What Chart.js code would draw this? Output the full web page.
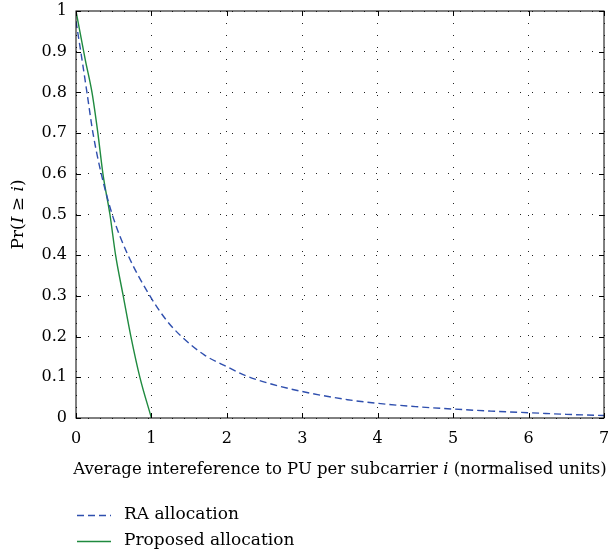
<!DOCTYPE html>
<html>
<head>
<meta charset="utf-8">
<script src="https://cdn.jsdelivr.net/npm/chart.js@4.4.1/dist/chart.umd.min.js"></script>
<style>
  html, body { margin: 0; padding: 0; background: #fff; }
  #wrap { width: 611px; height: 556px; }
</style>
</head>
<body>
<div id="wrap"><canvas id="chart"></canvas></div>
<script>
// RA allocation (dashed blue)
const raX = [0, 0.08, 0.145, 0.225, 0.335, 0.48, 0.69, 0.98, 1.2, 1.4, 1.7, 2, 2.25, 2.6, 3, 3.6, 4, 4.5, 5, 5.5, 6, 6.5, 7]
const raY = [0.975, 0.88, 0.8, 0.7, 0.6, 0.5, 0.4, 0.3, 0.24, 0.2, 0.155, 0.126, 0.104, 0.083, 0.065, 0.045, 0.036, 0.028, 0.022, 0.017, 0.013, 0.009, 0.006]

// Proposed allocation (solid green)
const propX = [0, 0.123, 0.212, 0.29, 0.357, 0.45, 0.525, 0.626, 0.728, 0.847, 1]
const propY = [1, 0.88, 0.8, 0.7, 0.6, 0.5, 0.4, 0.3, 0.2, 0.1, 0]

const xTicks = [0, 1, 2, 3, 4, 5, 6, 7]
const yTicks = [0, 0.1, 0.2, 0.3, 0.4, 0.5, 0.6, 0.7, 0.8, 0.9, 1]

const seriesNames = ['RA allocation', 'Proposed allocation']
const xTitle = ['Average intereference to PU per subcarrier ', 'i', ' (normalised units)']
const yTitle = ['Pr(', 'I', ' \u2265 ', 'i', ')']

const SERIF = '"DejaVu Serif", "Liberation Serif", serif'
const BLUE = '#2f4fae'
const GREEN = '#1f8a3f'

function pts(xs, ys) {
  return xs.map((x, i) => ({ x: x, y: ys[i] }))
}

// draws text pieces, odd pieces italic
function drawPieces(ctx, pieces, size, x, y) {
  let widths = pieces.map((p, i) => {
    ctx.font = (i % 2 ? 'italic ' : '') + size + 'px ' + SERIF
    return ctx.measureText(p).width
  })
  let total = widths.reduce((a, b) => a + b, 0)
  let cx = x - total / 2
  ctx.textAlign = 'left'
  ctx.textBaseline = 'middle'
  pieces.forEach((p, i) => {
    ctx.font = (i % 2 ? 'italic ' : '') + size + 'px ' + SERIF
    ctx.fillText(p, cx, y)
    cx += widths[i]
  })
}

const frame = {
  id: 'frame',
  afterDraw(chart) {
    const { ctx, chartArea: { left, right, top, bottom }, scales } = chart
    ctx.save()
    ctx.strokeStyle = '#000'
    ctx.lineWidth = 1
    ctx.strokeRect(left, top, right - left, bottom - top)

    // inward ticks on all four sides
    const tl = 5
    ctx.beginPath()
    xTicks.forEach(v => {
      const px = Math.round(scales.x.getPixelForValue(v)) + 0.5
      ctx.moveTo(px, bottom); ctx.lineTo(px, bottom - tl)
      ctx.moveTo(px, top); ctx.lineTo(px, top + tl)
    })
    yTicks.forEach(v => {
      const py = Math.round(scales.y.getPixelForValue(v)) + 0.5
      ctx.moveTo(left, py); ctx.lineTo(left + tl, py)
      ctx.moveTo(right, py); ctx.lineTo(right - tl, py)
    })
    ctx.stroke()

    ctx.fillStyle = '#000'
    // x title
    drawPieces(ctx, xTitle, 16.5, (left + right) / 2, 470)
    // y title, rotated
    ctx.save()
    ctx.translate(19, (top + bottom) / 2)
    ctx.rotate(-Math.PI / 2)
    drawPieces(ctx, yTitle, 17, 0, 0)
    ctx.restore()

    // legend
    const rows = [515, 541]
    chart.data.datasets.forEach((ds, i) => {
      const y = rows[i] + 0.5
      ctx.beginPath()
      ctx.strokeStyle = ds.borderColor
      ctx.lineWidth = 1.3
      ctx.setLineDash(ds.borderDash || [])
      ctx.moveTo(77, y); ctx.lineTo(111, y)
      ctx.stroke()
      ctx.setLineDash([])
      ctx.fillStyle = '#000'
      ctx.font = '17px ' + SERIF
      ctx.textAlign = 'left'
      ctx.textBaseline = 'middle'
      ctx.fillText(ds.label, 124, rows[i])
    })
    ctx.restore()
  }
}

const tickFmt = v => String(Number(v.toFixed(1)))

const ctx = document.getElementById('chart').getContext('2d')
const chart = new Chart(ctx, {
  type: 'line',
  data: {
    datasets: [
      {
        label: seriesNames[0],
        data: pts(raX, raY),
        borderColor: BLUE,
        borderWidth: 1.4,
        borderDash: [7, 4],
        pointRadius: 0,
        cubicInterpolationMode: 'monotone'
      },
      {
        label: seriesNames[1],
        data: pts(propX, propY),
        borderColor: GREEN,
        borderWidth: 1.4,
        pointRadius: 0,
        cubicInterpolationMode: 'monotone'
      }
    ]
  },
  options: {
    responsive: true,
    maintainAspectRatio: false,
    animation: false,
    layout: { padding: { top: 11, right: 7, left: 0, bottom: 0 } },
    plugins: {
      legend: { display: false },
      tooltip: { enabled: false }
    },
    scales: {
      x: {
        type: 'linear',
        min: 0,
        max: 7,
        afterBuildTicks: scale => { scale.ticks = xTicks.map(v => ({ value: v })) },
        afterFit: scale => { scale.height = 138; scale.paddingLeft = 0; scale.paddingRight = 0 },
        ticks: { color: '#000', font: { family: SERIF, size: 16 }, padding: 11, maxRotation: 0, callback: tickFmt },
        grid: { color: '#222', lineWidth: 1, drawTicks: false },
        border: { display: false, dash: [1, 11] }
      },
      y: {
        type: 'linear',
        min: 0,
        max: 1,
        afterBuildTicks: scale => { scale.ticks = yTicks.map(v => ({ value: v })) },
        afterFit: scale => { scale.width = 76; scale.paddingTop = 0; scale.paddingBottom = 0 },
        ticks: { color: '#000', font: { family: SERIF, size: 16 }, padding: 9, callback: tickFmt },
        grid: { color: '#222', lineWidth: 1, drawTicks: false },
        border: { display: false, dash: [1, 11] }
      }
    }
  },
  plugins: [frame]
})
</script>
</body>
</html>
